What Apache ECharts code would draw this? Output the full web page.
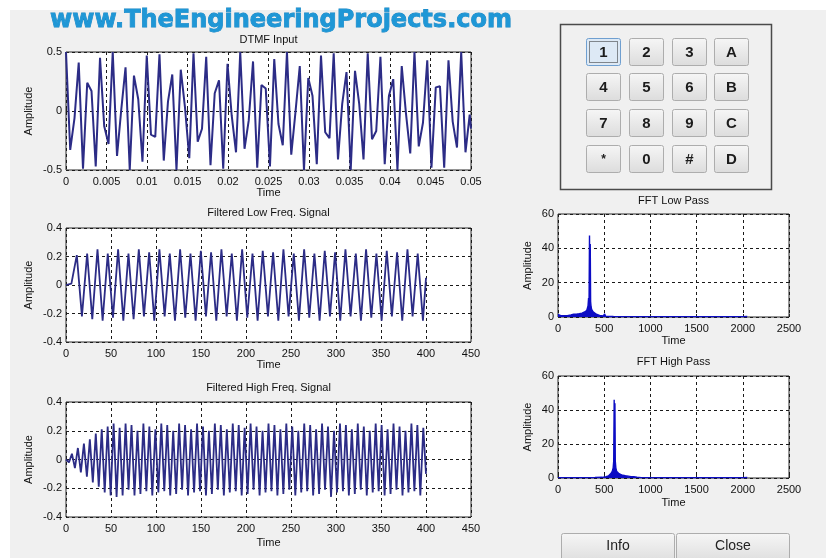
<!DOCTYPE html>
<html><head><meta charset="utf-8">
<script src="https://cdn.jsdelivr.net/npm/echarts/dist/echarts.min.js"></script>
<style>html,body{margin:0;padding:0;background:#fff}#c{width:826px;height:558px}</style>
</head><body><div id="c"></div>
<script>
// ---------- data ----------
const dtmfTime = [0,0.00052,0.00105,0.00157,0.0021,0.00262,0.00315,0.00367,0.0042,0.00472,0.00525,0.00577,0.0063,0.00682,0.00735,0.00787,0.00839,0.00892,0.00944,0.00997,0.01049,0.01102,0.01154,0.01207,0.01259,0.01312,0.01364,0.01417,0.01469,0.01522,0.01574,0.01626,0.01679,0.01731,0.01784,0.01836,0.01889,0.01941,0.01994,0.02046,0.02099,0.02151,0.02204,0.02256,0.02309,0.02361,0.02413,0.02466,0.02518,0.02571,0.02623,0.02676,0.02728,0.02781,0.02833,0.02886,0.02938,0.02991,0.03043,0.03096,0.03148,0.032,0.03253,0.03305,0.03358,0.0341,0.03463,0.03515,0.03568,0.0362,0.03673,0.03725,0.03778,0.0383,0.03882,0.03935,0.03987,0.0404,0.04092,0.04145,0.04197,0.0425,0.04302,0.04355,0.04407,0.0446,0.04512,0.04565,0.04617,0.04669,0.04722,0.04774,0.04827,0.04879,0.04932,0.04984,0.05];
const dtmfAmp = [0.5,-0.33,-0.06,0.41,-0.49,0.24,0.17,-0.47,0.45,-0.13,-0.28,0.5,-0.38,0.01,0.37,-0.5,0.3,0.1,-0.43,0.47,-0.2,-0.22,0.48,-0.42,0.08,0.31,-0.5,0.35,0.03,-0.4,0.49,-0.26,-0.15,0.46,-0.46,0.15,0.26,-0.49,0.4,-0.04,-0.35,0.5,-0.32,-0.08,0.42,-0.48,0.22,0.19,-0.47,0.44,-0.11,-0.29,0.5,-0.37,-0.01,0.38,-0.5,0.28,0.13,-0.45,0.47,-0.18,-0.23,0.49,-0.41,0.06,0.33,-0.5,0.34,0.06,-0.41,0.49,-0.24,-0.17,0.46,-0.45,0.13,0.27,-0.5,0.38,-0.02,-0.36,0.5,-0.3,-0.1,0.43,-0.48,0.2,0.21,-0.48,0.43,-0.09,-0.31,0.5,-0.35,-0.03,-0.15];

const lowIdx = [0,6,12,17.7,23.5,29.2,35,40.7,46.4,52.2,57.9,63.7,69.4,75.1,80.9,86.6,92.4,98.1,103.8,109.6,115.3,121.1,126.8,132.5,138.3,144,149.8,155.5,161.2,167,172.7,178.5,184.2,189.9,195.7,201.4,207.2,212.9,218.6,224.4,230.1,235.9,241.6,247.3,253.1,258.8,264.6,270.3,276,281.8,287.5,293.3,299,304.7,310.5,316.2,322,327.7,333.4,339.2,344.9,350.7,356.4,362.1,367.9,373.6,379.4,385.1,390.8,396.6,400];
const lowAmp = [0,0.01,0.21,-0.22,0.22,-0.24,0.25,-0.25,0.22,-0.23,0.25,-0.25,0.22,-0.24,0.25,-0.22,0.23,-0.25,0.25,-0.22,0.22,-0.25,0.25,-0.23,0.22,-0.25,0.24,-0.22,0.23,-0.25,0.25,-0.22,0.22,-0.25,0.25,-0.23,0.22,-0.25,0.24,-0.22,0.23,-0.25,0.25,-0.22,0.22,-0.25,0.25,-0.23,0.22,-0.25,0.24,-0.22,0.23,-0.25,0.25,-0.22,0.22,-0.25,0.25,-0.23,0.22,-0.25,0.24,-0.22,0.23,-0.25,0.25,-0.22,0.22,-0.25,0.05];

const highIdx = [0,3.3,6.6,9.9,13.2,16.5,19.9,23.2,26.5,29.8,33.1,36.4,39.7,43,46.3,49.6,52.9,56.2,59.6,62.9,66.2,69.5,72.8,76.1,79.4,82.7,86,89.3,92.6,95.9,99.3,102.6,105.9,109.2,112.5,115.8,119.1,122.4,125.7,129,132.3,135.6,139,142.3,145.6,148.9,152.2,155.5,158.8,162.1,165.4,168.7,172,175.4,178.7,182,185.3,188.6,191.9,195.2,198.5,201.8,205.1,208.4,211.7,215.1,218.4,221.7,225,228.3,231.6,234.9,238.2,241.5,244.8,248.1,251.4,254.8,258.1,261.4,264.7,268,271.3,274.6,277.9,281.2,284.5,287.8,291.1,294.5,297.8,301.1,304.4,307.7,311,314.3,317.6,320.9,324.2,327.5,330.9,334.2,337.5,340.8,344.1,347.4,350.7,354,357.3,360.6,363.9,367.2,370.6,373.9,377.2,380.5,383.8,387.1,390.4,393.7,397,400];
const highAmp = [0,-0.02,0.04,-0.06,0.08,-0.09,0.11,-0.12,0.14,-0.16,0.18,-0.19,0.21,-0.23,0.23,-0.25,0.25,-0.26,0.22,-0.25,0.25,-0.21,0.24,-0.25,0.2,-0.24,0.25,-0.22,0.23,-0.25,0.21,-0.23,0.25,-0.22,0.24,-0.25,0.2,-0.24,0.25,-0.21,0.24,-0.25,0.21,-0.23,0.25,-0.22,0.23,-0.25,0.2,-0.24,0.25,-0.21,0.24,-0.25,0.21,-0.23,0.25,-0.22,0.24,-0.25,0.22,-0.24,0.25,-0.21,0.23,-0.25,0.2,-0.23,0.25,-0.22,0.24,-0.25,0.21,-0.24,0.25,-0.21,0.23,-0.25,0.2,-0.23,0.25,-0.22,0.24,-0.25,0.21,-0.24,0.25,-0.21,0.23,-0.26,0.2,-0.23,0.25,-0.22,0.24,-0.25,0.21,-0.24,0.25,-0.21,0.23,-0.25,0.2,-0.23,0.25,-0.22,0.24,-0.25,0.21,-0.24,0.25,-0.21,0.23,-0.25,0.2,-0.23,0.25,-0.22,0.24,-0.25,0.22,-0.1];

const fftLowBin = [0,10,30,60,100,140,170,200,230,260,280,300,315,325,331,336,341,345,349,353,358,364,372,380,390,400,415,430,450,470,490,500,505,515,540,600,800,1000,1200,1500,1800,2000,2048];
const fftLowMag = [1.5,1.0,0.8,0.7,0.8,1.2,1.6,1.7,1.9,2.2,2.6,3.2,4.5,6.5,11,8,47.5,12,42.5,9,6,4.5,3.6,3,2.5,2,1.6,1.2,0.9,0.7,0.6,0.5,1.8,0.4,0.3,0.25,0.2,0.2,0.2,0.2,0.2,0.2,0.3];

const fftHighBin = [0,100,200,300,400,480,520,545,560,575,588,597,603,608,612,616,620,626,634,645,660,680,700,730,760,790,820,840,855,870,900,1000,1200,1500,1800,2000,2048];
const fftHighMag = [0.2,0.2,0.2,0.2,0.3,0.4,0.8,1.2,1.8,2.8,4,6,10,46,12,44,10,6,4,3,2.5,2,1.6,1.3,1.1,0.8,0.7,1.2,0.5,0.3,0.25,0.2,0.2,0.2,0.2,0.2,0.3];

const plotTitles = ['DTMF Input','Filtered Low Freq. Signal','Filtered High Freq. Signal','FFT Low Pass','FFT High Pass'];
const keypadKeys = [['1','2','3','A'],['4','5','6','B'],['7','8','9','C'],['*','0','#','D']];
const bottomButtons = ['Info','Close'];
const watermark = 'www.TheEngineeringProjects.com';

// ---------- layout ----------
const FONT = '"Liberation Sans", Arial, sans-serif';
const zip = (a, b) => a.map((v, i) => [v, b[i]]);
const grids = [
  {left:66, top:52, width:405, height:118},
  {left:66, top:228, width:405, height:114},
  {left:66, top:402, width:405, height:115},
  {left:558, top:214, width:231, height:103},
  {left:558, top:376, width:231, height:102}
];
const titleY = [40, 213, 388, 201, 362];
const xCfg = [
  {min:0, max:0.05, interval:0.005, dec:3, gap:16},
  {min:0, max:450, interval:50, dec:0, gap:17},
  {min:0, max:450, interval:50, dec:0, gap:20},
  {min:0, max:2500, interval:500, dec:0, gap:18},
  {min:0, max:2500, interval:500, dec:0, gap:19}
];
const yCfg = [
  {min:-0.5, max:0.5, interval:0.5, dec:1, gap:32},
  {min:-0.4, max:0.4, interval:0.2, dec:1, gap:32},
  {min:-0.4, max:0.4, interval:0.2, dec:1, gap:32},
  {min:0, max:60, interval:20, dec:0, gap:25},
  {min:0, max:60, interval:20, dec:0, gap:25}
];
const txt = {fontFamily:FONT, fontSize:11, color:'#111'};
const split = {show:true, lineStyle:{color:'#1a1a1a', type:[3,3], width:1}};

const xAxis = xCfg.map((c, i) => ({
  type:'value', gridIndex:i, min:c.min, max:c.max, interval:c.interval, position:'bottom',
  name:'Time', nameLocation:'middle', nameGap:c.gap, nameTextStyle:txt,
  axisLine:{show:false}, axisTick:{show:true, inside:true, length:3, lineStyle:{color:'#222'}},
  axisLabel:Object.assign({margin:6, formatter:v => String(+v.toFixed(c.dec))}, txt),
  splitLine:split
}));
const yAxis = yCfg.map((c, i) => ({
  type:'value', gridIndex:i, min:c.min, max:c.max, interval:c.interval,
  name:'Amplitude', nameLocation:'middle', nameGap:c.gap, nameRotate:90, nameTextStyle:txt,
  axisLine:{show:false}, axisTick:{show:true, inside:true, length:3, lineStyle:{color:'#222'}},
  axisLabel:Object.assign({margin:4, formatter:v => String(+v.toFixed(c.dec))}, txt),
  splitLine:split
}));

const sigLine = {color:'#2c2c86', width:1.8};
const fftColor = '#0c0cc4';
const series = [
  {type:'line', xAxisIndex:0, yAxisIndex:0, data:zip(dtmfTime, dtmfAmp), showSymbol:false, lineStyle:{color:'#2c2c86', width:2}, z:3},
  {type:'line', xAxisIndex:1, yAxisIndex:1, data:zip(lowIdx, lowAmp), showSymbol:false, lineStyle:sigLine, z:3},
  {type:'line', xAxisIndex:2, yAxisIndex:2, data:zip(highIdx, highAmp), showSymbol:false, lineStyle:sigLine, z:3},
  {type:'line', xAxisIndex:3, yAxisIndex:3, data:zip(fftLowBin, fftLowMag), showSymbol:false, lineStyle:{color:fftColor, width:1.4}, areaStyle:{color:fftColor, opacity:1}, z:3},
  {type:'line', xAxisIndex:4, yAxisIndex:4, data:zip(fftHighBin, fftHighMag), showSymbol:false, lineStyle:{color:fftColor, width:1.4}, areaStyle:{color:fftColor, opacity:1}, z:3}
];

// ---------- GUI decorations ----------
const graphic = [];
graphic.push({type:'rect', shape:{x:0, y:0, width:826, height:10}, style:{fill:'#ffffff'}});
graphic.push({type:'rect', shape:{x:0, y:0, width:10, height:558}, style:{fill:'#ffffff'}});
graphic.push({type:'text', x:281, y:21, style:{text:watermark, font:'bold 24px "DejaVu Sans"', fill:'#1f97d6', stroke:'#1a86c4', lineWidth:0.8, align:'center', verticalAlign:'middle'}});
plotTitles.forEach((t, i) => {
  const g = grids[i];
  graphic.push({type:'text', x:g.left + g.width / 2, y:titleY[i], style:{text:t, font:'11px ' + FONT, fill:'#111', align:'center', verticalAlign:'middle'}});
});
graphic.push({type:'rect', shape:{x:560.5, y:24.5, width:211, height:165}, style:{fill:'none', stroke:'#4a4a4a', lineWidth:1.5}});
const btnFill = {type:'linear', x:0, y:0, x2:0, y2:1, colorStops:[{offset:0, color:'#f6f6f6'}, {offset:1, color:'#dcdcdc'}]};
const colX = [586, 629, 672, 714], rowY = [38, 73, 109, 145];
keypadKeys.forEach((row, r) => row.forEach((k, c) => {
  const focus = (r === 0 && c === 0);
  graphic.push({type:'rect', shape:{x:colX[c] + 0.5, y:rowY[r] + 0.5, width:34, height:27, r:2},
    style:{fill: focus ? '#dde9f5' : btnFill, stroke: focus ? '#6f9fd0' : '#adadad', lineWidth:1}});
  if (focus) graphic.push({type:'rect', shape:{x:colX[c] + 3.5, y:rowY[r] + 3.5, width:28, height:21},
    style:{fill:'none', stroke:'#222', lineWidth:1, lineDash:[1, 1]}});
  graphic.push({type:'text', x:colX[c] + 17.5, y:rowY[r] + 14.5,
    style:{text:k, font:(k === '*' ? 'bold 12px ' : 'bold 15px ') + FONT, fill:'#1c1c1c', align:'center', verticalAlign:'middle'}});
}));
const bx = [561, 676];
bottomButtons.forEach((b, i) => {
  graphic.push({type:'rect', shape:{x:bx[i] + 0.5, y:533.5, width:113, height:30, r:2}, style:{fill:btnFill, stroke:'#adadad', lineWidth:1}});
  graphic.push({type:'text', x:bx[i] + 57, y:546, style:{text:b, font:'14px ' + FONT, fill:'#222', align:'center', verticalAlign:'middle'}});
});

const chart = echarts.init(document.getElementById('c'), null, {renderer:'canvas'});
chart.setOption({
  backgroundColor:'#f0f0f0',
  animation:false,
  grid:grids.map(g => Object.assign({show:true, backgroundColor:'#ffffff', borderColor:'#2a2a2a', borderWidth:1}, g)),
  xAxis, yAxis, series, graphic
});
</script></body></html>
